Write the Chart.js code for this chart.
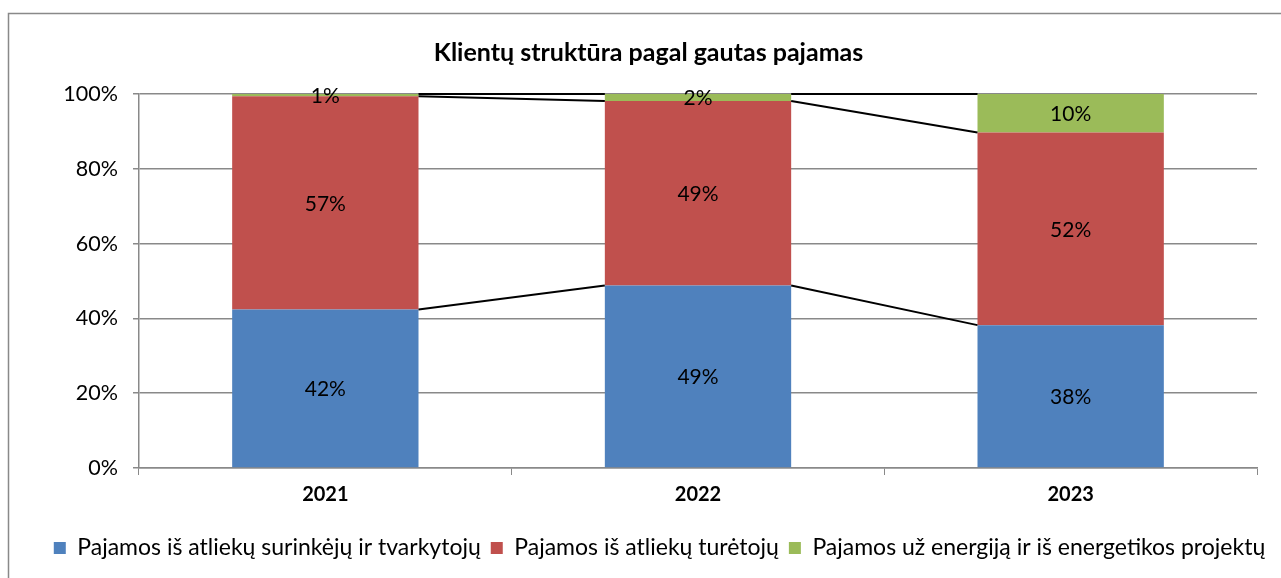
<!DOCTYPE html>
<html>
<head>
<meta charset="utf-8">
<script src="https://cdn.jsdelivr.net/npm/chart.js@4/dist/chart.umd.min.js"></script>
<style>
html,body{margin:0;padding:0;background:#fff;}
#wrap{position:absolute;left:0;top:0;width:1281px;height:578px;}
</style>
</head>
<body>
<div id="wrap"><canvas id="c" width="1281" height="578"></canvas></div>
<script>
const categories = ['2021', '2022', '2023'];
const seriesNames = [
  'Pajamos iš atliekų surinkėjų ir tvarkytojų',
  'Pajamos iš atliekų turėtojų',
  'Pajamos už energiją ir iš energetikos projektų'
];
const collectors = [42.4, 48.8, 38.2];
const holders = [57.0, 49.3, 51.5];
const energy = [0.6, 1.9, 10.3];
const labelsCollectors = ['42%', '49%', '38%'];
const labelsHolders = ['57%', '49%', '52%'];
const labelsEnergy = ['1%', '2%', '10%'];
const yTicks = ['0%', '20%', '40%', '60%', '80%', '100%'];
const titleText = 'Klientų struktūra pagal gautas pajamas';

const FONT = 'Lato, "Open Sans", sans-serif';

const frame = {
  id: 'frame',
  beforeDraw(chart) {
    const ctx = chart.ctx;
    ctx.save();
    ctx.fillStyle = '#fff';
    ctx.fillRect(0, 0, chart.width, chart.height);
    ctx.strokeStyle = '#898989';
    ctx.lineWidth = 1.5;
    ctx.strokeRect(8.5, 13.5, 1400, 700);
    ctx.restore();
  }
};

const shiftBoxes = {
  id: 'shiftBoxes',
  afterLayout(chart) {
    const lg = chart.legend;
    if (lg) {
      lg.left += 26; lg.right += 26;
      if (lg.adjustHitBoxes) lg.adjustHitBoxes();
    }
    const tb = chart.titleBlock;
    if (tb) { tb.left += 15; tb.right += 15; }
  }
};

const seriesLines = {
  id: 'seriesLines',
  afterDatasetsDraw(chart) {
    const ctx = chart.ctx;
    ctx.save();
    ctx.strokeStyle = '#000';
    ctx.lineWidth = 2;
    chart.data.datasets.forEach((ds, di) => {
      const meta = chart.getDatasetMeta(di);
      for (let i = 0; i < meta.data.length - 1; i++) {
        const a = meta.data[i], b = meta.data[i + 1];
        ctx.beginPath();
        ctx.moveTo(a.x + a.width / 2, a.y);
        ctx.lineTo(b.x - b.width / 2, b.y);
        ctx.stroke();
      }
    });
    ctx.restore();
  }
};

const dataLabels = {
  id: 'dataLabels',
  afterDatasetsDraw(chart) {
    const ctx = chart.ctx;
    const texts = [labelsCollectors, labelsHolders, labelsEnergy];
    ctx.save();
    ctx.fillStyle = '#000';
    ctx.font = '21px ' + FONT;
    ctx.textAlign = 'center';
    ctx.textBaseline = 'middle';
    chart.data.datasets.forEach((ds, di) => {
      const meta = chart.getDatasetMeta(di);
      meta.data.forEach((el, i) => {
        const cy = (el.y + el.base) / 2;
        ctx.fillText(texts[di][i], el.x, cy + 1);
      });
    });
    ctx.restore();
  }
};

new Chart(document.getElementById('c'), {
  type: 'bar',
  data: {
    labels: categories,
    datasets: [
      { label: seriesNames[0], data: collectors, backgroundColor: '#4F81BD' },
      { label: seriesNames[1], data: holders, backgroundColor: '#C0504D' },
      { label: seriesNames[2], data: energy, backgroundColor: '#9BBB59' }
    ]
  },
  options: {
    responsive: false,
    animation: false,
    devicePixelRatio: 1,
    layout: { padding: { left: 10, right: 24, top: 0, bottom: 8.5 } },
    datasets: { bar: { categoryPercentage: 1.0, barPercentage: 0.5 } },
    plugins: {
      title: {
        display: true,
        text: titleText,
        color: '#000',
        font: { family: FONT, size: 25, weight: 'bold' },
        padding: { top: 38, bottom: 26 }
      },
      legend: {
        position: 'bottom',
        labels: {
          color: '#000',
          font: { family: FONT, size: 23 },
          boxWidth: 12,
          boxHeight: 12,
          padding: 10
        }
      },
      tooltip: { enabled: false }
    },
    scales: {
      x: {
        stacked: true,
        grid: { display: true, drawOnChartArea: false, drawTicks: true, tickLength: 7, color: '#898989', offset: true },
        border: { display: true, color: '#898989', width: 1.5 },
        ticks: { color: '#000', font: { family: FONT, size: 20, weight: 'bold' }, padding: 8 },
        afterFit(scale) { scale.height = 58.5; }
      },
      y: {
        stacked: true,
        min: 0,
        max: 100,
        grid: { color: '#898989', lineWidth: 1.5, tickLength: 6 },
        border: { display: true, color: '#898989', width: 1.5 },
        ticks: {
          stepSize: 20,
          color: '#000',
          font: { family: FONT, size: 21.5 },
          padding: 15,
          callback: (v) => yTicks[v / 20]
        },
        afterFit(scale) { scale.width = 129; }
      }
    }
  },
  plugins: [frame, shiftBoxes, seriesLines, dataLabels]
});
</script>
</body>
</html>
